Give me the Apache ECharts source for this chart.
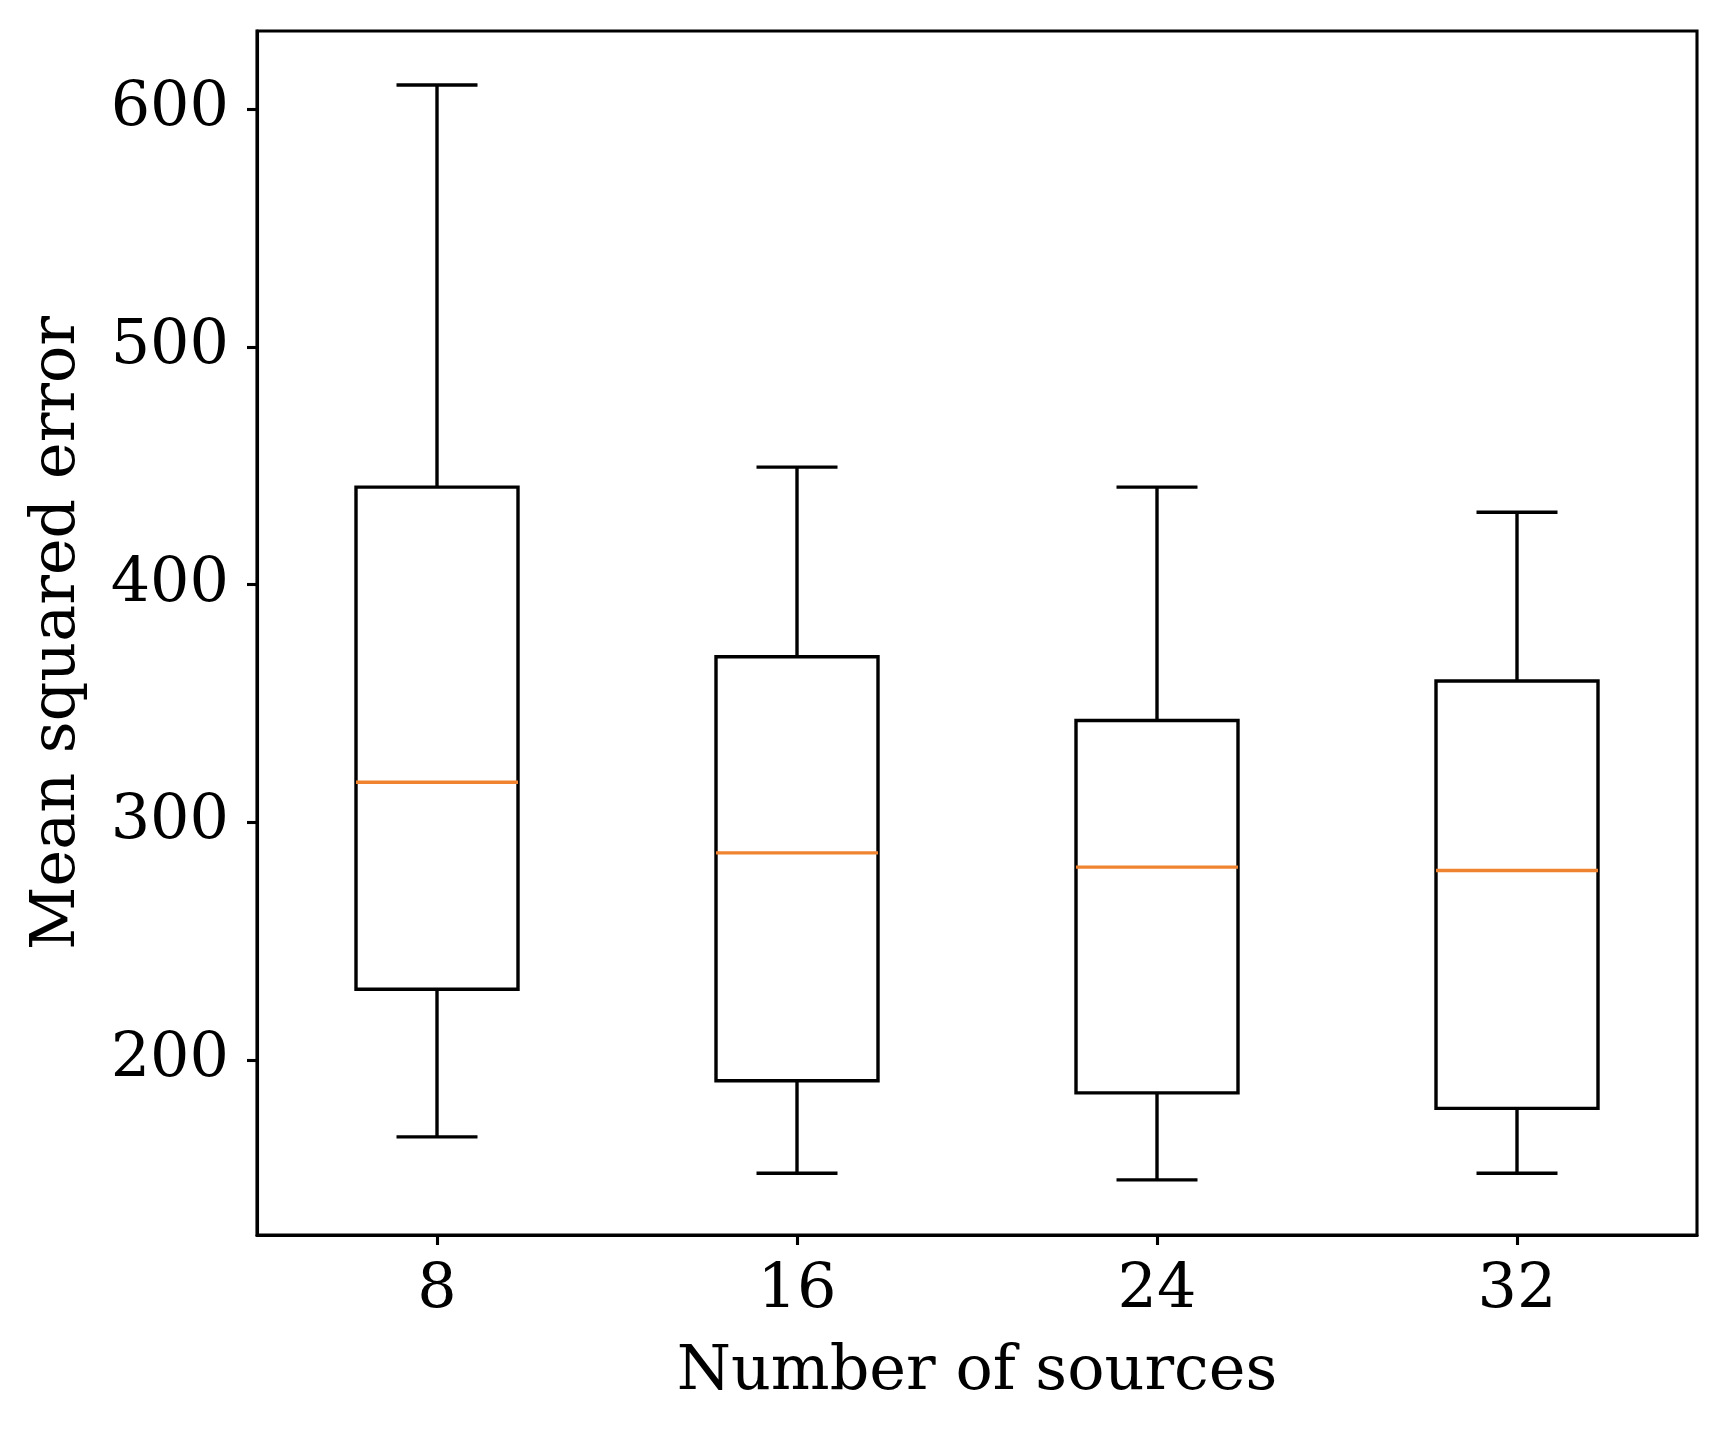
<!DOCTYPE html>
<html><head><meta charset="utf-8">
<script src="https://cdn.jsdelivr.net/npm/echarts@6/dist/echarts.min.js"></script>
<style>html,body{margin:0;padding:0;background:#fff}#c{width:1727px;height:1433px}</style>
</head><body><div id="c"></div>
<script>
const categories = ['8', '16', '24', '32'];
const whiskerLow = [167.6, 152.3, 149.5, 152.3];
const q1 = [229.7, 191.2, 186.1, 179.6];
const median = [316.8, 287.1, 281.1, 279.7];
const q3 = [441.0, 369.6, 342.8, 359.4];
const whiskerHigh = [610.2, 449.4, 441.0, 430.4];
const yTicks = [200, 300, 400, 500, 600];

const FONT = 'DejaVu Serif';
const FS = 62;
const LW = 3.4;

const boxData = categories.map((c, i) => [i, whiskerLow[i], q1[i], median[i], q3[i], whiskerHigh[i]]);

const chart = echarts.init(document.getElementById('c'), null, {renderer: 'canvas'});
chart.setOption({
  animation: false,
  backgroundColor: '#fff',
  grid: {left: 257, right: 30, top: 31, bottom: 198, show: true, borderColor: '#000', borderWidth: 3.1, backgroundColor: 'transparent'},
  xAxis: {
    type: 'category', data: categories, boundaryGap: true,
    name: 'Number of sources', nameLocation: 'middle', nameGap: 107,
    nameTextStyle: {fontFamily: FONT, fontSize: FS, color: '#000'},
    axisLine: {show: true, lineStyle: {color: '#000', width: 3.1}},
    axisTick: {show: true, alignWithLabel: true, length: 10, lineStyle: {color: '#000', width: 3.1}},
    axisLabel: {fontFamily: FONT, fontSize: FS, color: '#000', margin: 25},
    splitLine: {show: false}
  },
  yAxis: {
    type: 'value', min: 126.3, max: 632.9,
    name: 'Mean squared error', nameLocation: 'middle', nameGap: 168,
    nameTextStyle: {fontFamily: FONT, fontSize: FS, color: '#000'},
    axisLine: {show: true, lineStyle: {color: '#000', width: 3.1}},
    axisTick: {show: true, length: 10, customValues: yTicks, lineStyle: {color: '#000', width: 3.1}},
    axisLabel: {fontFamily: FONT, fontSize: FS, color: '#000', margin: 28, customValues: yTicks},
    splitLine: {show: false}
  },
  series: [{
    type: 'custom',
    data: boxData,
    encode: {x: 0, y: [1, 2, 3, 4, 5]},
    renderItem: function (params, api) {
      const idx = api.value(0);
      const band = api.size([1, 0])[0];
      const bw = band * 0.45, cw = band * 0.225;
      const pLow = api.coord([idx, api.value(1)]);
      const pQ1 = api.coord([idx, api.value(2)]);
      const pMed = api.coord([idx, api.value(3)]);
      const pQ3 = api.coord([idx, api.value(4)]);
      const pHigh = api.coord([idx, api.value(5)]);
      const x = pMed[0];
      const st = {stroke: '#000', lineWidth: LW, fill: null};
      return {
        type: 'group',
        children: [
          {type: 'line', shape: {x1: x, y1: pQ1[1], x2: x, y2: pLow[1]}, style: st},
          {type: 'line', shape: {x1: x, y1: pQ3[1], x2: x, y2: pHigh[1]}, style: st},
          {type: 'line', shape: {x1: x - cw / 2, y1: pLow[1], x2: x + cw / 2, y2: pLow[1]}, style: st},
          {type: 'line', shape: {x1: x - cw / 2, y1: pHigh[1], x2: x + cw / 2, y2: pHigh[1]}, style: st},
          {type: 'rect', shape: {x: x - bw / 2, y: pQ3[1], width: bw, height: pQ1[1] - pQ3[1]}, style: {stroke: '#000', lineWidth: LW, fill: 'none'}},
          {type: 'line', shape: {x1: x - bw / 2, y1: pMed[1], x2: x + bw / 2, y2: pMed[1]}, style: {stroke: '#f0832f', lineWidth: LW}}
        ]
      };
    }
  }]
});
</script></body></html>
